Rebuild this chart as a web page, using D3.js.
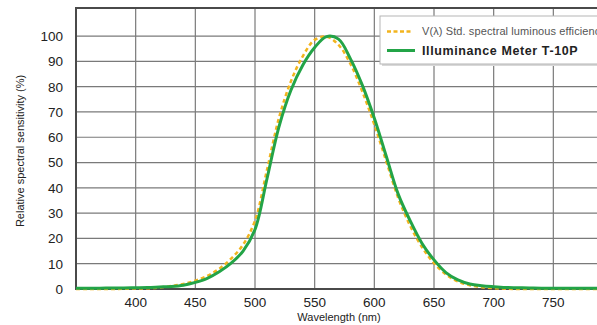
<!DOCTYPE html>
<meta charset="UTF-8">
<style>
body { margin: 0; background: #fff; }
.grid line { stroke: #7a7a7a; stroke-width: 1.2px; }
.tick-label { font: 13.5px "Liberation Sans", Arial, sans-serif; fill: #222; }
.axis-title { font: 11px "Liberation Sans", Arial, sans-serif; fill: #222; }
</style>
<body>
<script src="https://d3js.org/d3.v7.min.js"></script>
<script>

// wavelength samples (nm)
var wavelengths = [350, 360, 370, 380, 390, 400, 410, 420, 430, 440, 450, 460, 470, 480, 490,
  500, 510, 520, 530, 540, 550, 560, 570, 580, 590, 600, 610, 620, 630, 640, 650, 660, 670,
  680, 690, 700, 710, 720, 730, 740, 750, 760, 770, 780, 790, 800];

// V(lambda) standard spectral luminous efficiency (%)
var vLambda = [0, 0, 0, 0, 0.1, 0.2, 0.3, 0.6, 1.2, 2.0, 3.3, 5.2, 8.0, 12.0, 17.5,
  27, 47, 67.5, 82, 92, 98.5, 99.8, 96.5, 89, 78, 65, 50.5, 36, 25, 16.5, 10.2, 5.8, 3.0,
  1.5, 0.7, 0.3, 0.1, 0, 0, 0, 0, 0, 0, 0, 0, 0];

// Illuminance Meter T-10P relative sensitivity (%)
var t10p = [0.3, 0.3, 0.3, 0.4, 0.4, 0.5, 0.6, 0.8, 1.0, 1.5, 2.6, 4.2, 6.8, 10.2, 15.0,
  23.5, 43.5, 64, 78.5, 88.5, 95.5, 99.8, 98.8, 91, 80.5, 67.5, 52.5, 37.5, 27, 18, 11.5, 6.5, 3.6,
  2.0, 1.3, 0.9, 0.6, 0.5, 0.4, 0.3, 0.3, 0.3, 0.3, 0.3, 0.3, 0.3];

var xTicks = [400, 450, 500, 550, 600, 650, 700, 750];
var yTicks = [0, 10, 20, 30, 40, 50, 60, 70, 80, 90, 100];

var legendLabels = ["V(\u03bb) Std. spectral luminous efficiency", "Illuminance Meter T-10P"];

var width = 597, height = 325;
var margin = {top: 8, left: 76, bottom: 36};

var svg = d3.select("body").append("svg")
    .attr("width", width)
    .attr("height", height);

var x = d3.scaleLinear().domain([350, 800]).range([margin.left, 613]);
var y = d3.scaleLinear().domain([0, 111.1]).range([height - margin.bottom, margin.top]);

// grid
var grid = svg.append("g").attr("class", "grid");
grid.selectAll("line.v").data(xTicks).enter().append("line")
    .attr("x1", d => x(d)).attr("x2", d => x(d))
    .attr("y1", y.range()[1]).attr("y2", y(0));
grid.selectAll("line.h").data(yTicks.slice(1)).enter().append("line")
    .attr("x1", x.range()[0]).attr("x2", x.range()[1])
    .attr("y1", d => y(d)).attr("y2", d => y(d));

// frame
svg.append("path")
    .attr("d", "M" + x.range()[1] + "," + y.range()[1] + "H" + x.range()[0] + "V" + y(0) + "H" + x.range()[1])
    .attr("fill", "none")
    .attr("stroke", "#4a4a4a")
    .attr("stroke-width", 2);

// tick labels
svg.selectAll("text.xt").data(xTicks).enter().append("text")
    .attr("class", "tick-label")
    .attr("x", d => x(d)).attr("y", 307)
    .attr("text-anchor", "middle")
    .text(d => d);
svg.selectAll("text.yt").data(yTicks).enter().append("text")
    .attr("class", "tick-label")
    .attr("x", 63).attr("y", d => y(d))
    .attr("dy", "0.36em")
    .attr("text-anchor", "end")
    .text(d => d);

svg.append("text")
    .attr("class", "axis-title")
    .attr("x", 339).attr("y", 321)
    .attr("text-anchor", "middle")
    .text("Wavelength (nm)");
svg.append("text")
    .attr("class", "axis-title")
    .attr("transform", "translate(24,151) rotate(-90)")
    .attr("text-anchor", "middle")
    .text("Relative spectral sensitivity (%)");

// curves
var line = d3.line()
    .x(d => x(d[0]))
    .y(d => y(d[1]))
    .curve(d3.curveCatmullRom.alpha(0.5));

svg.append("path")
    .datum(d3.zip(wavelengths, vLambda))
    .attr("d", line)
    .attr("fill", "none")
    .attr("stroke", "#f2b41e")
    .attr("stroke-width", 2.5)
    .attr("stroke-dasharray", "4,3");

svg.append("path")
    .datum(d3.zip(wavelengths, t10p))
    .attr("d", line)
    .attr("fill", "none")
    .attr("stroke", "#23a447")
    .attr("stroke-width", 3);

// legend
var lg = svg.append("g");
lg.append("rect")
    .attr("x", 382).attr("y", 18).attr("width", 230).attr("height", 48)
    .attr("fill", "#d8d8d8");
lg.append("rect")
    .attr("x", 380).attr("y", 16).attr("width", 230).attr("height", 48)
    .attr("fill", "#fff")
    .attr("stroke", "#b5b5b5")
    .attr("stroke-width", 1);
lg.append("line")
    .attr("x1", 387).attr("x2", 413).attr("y1", 31.5).attr("y2", 31.5)
    .attr("stroke", "#f2b41e").attr("stroke-width", 2.5).attr("stroke-dasharray", "4,2.5");
lg.append("line")
    .attr("x1", 387).attr("x2", 415).attr("y1", 50.5).attr("y2", 50.5)
    .attr("stroke", "#23a447").attr("stroke-width", 3);
lg.append("text")
    .attr("x", 422).attr("y", 35)
    .style("font", "11px 'Liberation Sans', Arial, sans-serif")
    .style("letter-spacing", "0.1px")
    .style("fill", "#555")
    .text(legendLabels[0]);
lg.append("text")
    .attr("x", 422).attr("y", 54.5)
    .style("font", "bold 12.5px 'Liberation Sans', Arial, sans-serif")
    .style("letter-spacing", "0.6px")
    .style("fill", "#222")
    .text(legendLabels[1]);

</script>
</body>
